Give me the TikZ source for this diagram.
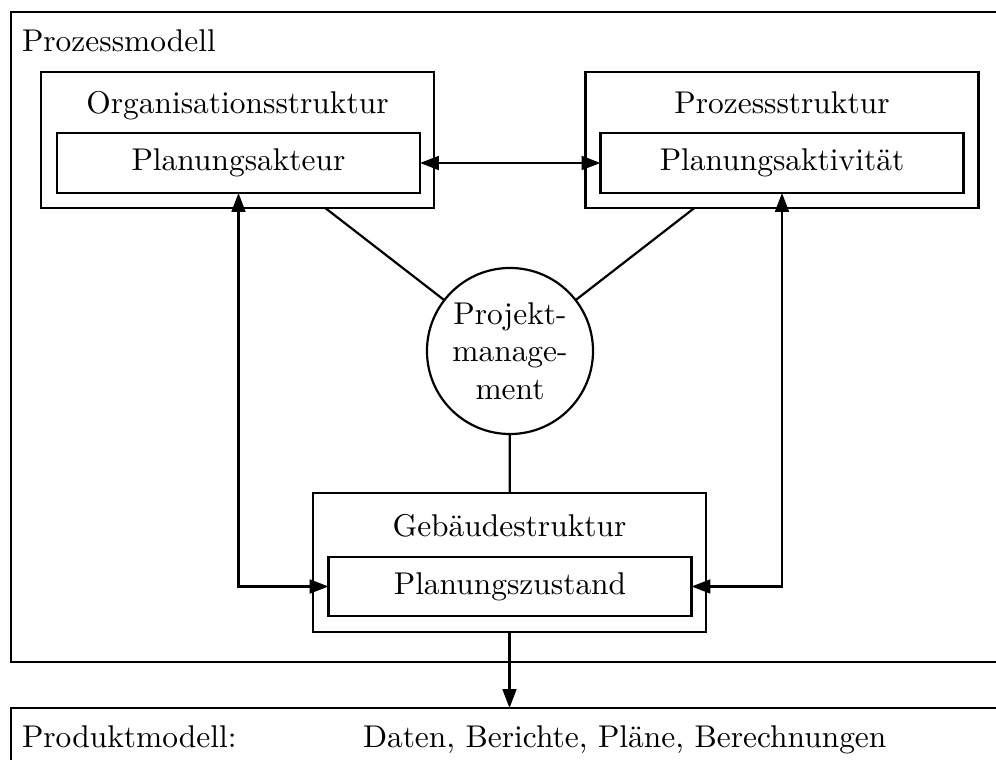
\documentclass[tikz,border=0pt]{standalone}
\usepackage{fontspec}
\usepackage{tikz}
\usetikzlibrary{positioning,arrows.meta}

\begin{document}
\begin{tikzpicture}[
        x=0.318pt, y=-0.318pt,
        line width=0.7pt,
        every node/.style={inner sep=0pt, outer sep=0pt},
        frame/.style={draw, rectangle, anchor=north west},
        structure/.style={draw, rectangle, minimum width=125pt, minimum height=43.2pt},
        element/.style={draw, rectangle, minimum width=115.4pt, minimum height=19.1pt},
        title/.style={anchor=base},
        manager/.style={draw, circle, minimum size=52.8pt, align=center},
        arrow/.style={-{Triangle[length=6pt,width=4.4pt]}},
        twoway/.style={{Triangle[length=6pt,width=4.4pt]}-{Triangle[length=6pt,width=4.4pt]}}
    ]
        \useasboundingbox (0,0) rectangle (996,760);
        \clip (0,0) rectangle (996,760);

        % Outer frames
        \node[frame, minimum width=317.7pt, minimum height=206.7pt] (prozessmodell) at (11,12) {};
        \node[anchor=base west] (prozessmodelltext) at (22,52) {Prozessmodell};
        \node[frame, minimum width=317.7pt, minimum height=31.8pt] (produktmodell) at (11,708) {};
        \node[anchor=base west] (produktmodelltext) at (22,748) {Produktmodell:};
        \node[anchor=base west] (produkte) at (363,748) {Daten, Berichte, Pläne, Berechnungen};

        % Structures
        \node[structure] (organisation) at (237.5,140) {};
        \node[title] (organisationtitle) at (237.5,114) {Organisationsstruktur};
        \node[element] (akteur) at (238.5,163) {Planungsakteur};

        \node[structure] (prozess) at (782,140) {};
        \node[title] (prozesstitle) at (782,114) {Prozessstruktur};
        \node[element] (aktivitaet) at (782,163) {Planungsaktivität};

        \node[structure, minimum height=44.2pt] (gebaeude) at (509.5,562.5) {};
        \node[title] (gebaeudetitle) at (509.5,537) {Gebäudestruktur};
        \node[element, minimum height=18.8pt] (zustand) at (510,586.5) {Planungszustand};

        % Central Node
        \node[manager] (projekt) at (510,351) {Projekt-\\manage-\\ment};

        % Connections
        \draw (projekt) -- (organisation);
        \draw (projekt) -- (prozess);
        \draw (projekt) -- (gebaeude);

        \draw[twoway] (akteur) -- (aktivitaet);
        \draw[twoway] (akteur.south) |- (zustand.west);
        \draw[twoway] (aktivitaet.south) |- (zustand.east);
        \draw[arrow] (gebaeude.south) -- (gebaeude.south |- produktmodell.north);
    \end{tikzpicture}
\end{document}
